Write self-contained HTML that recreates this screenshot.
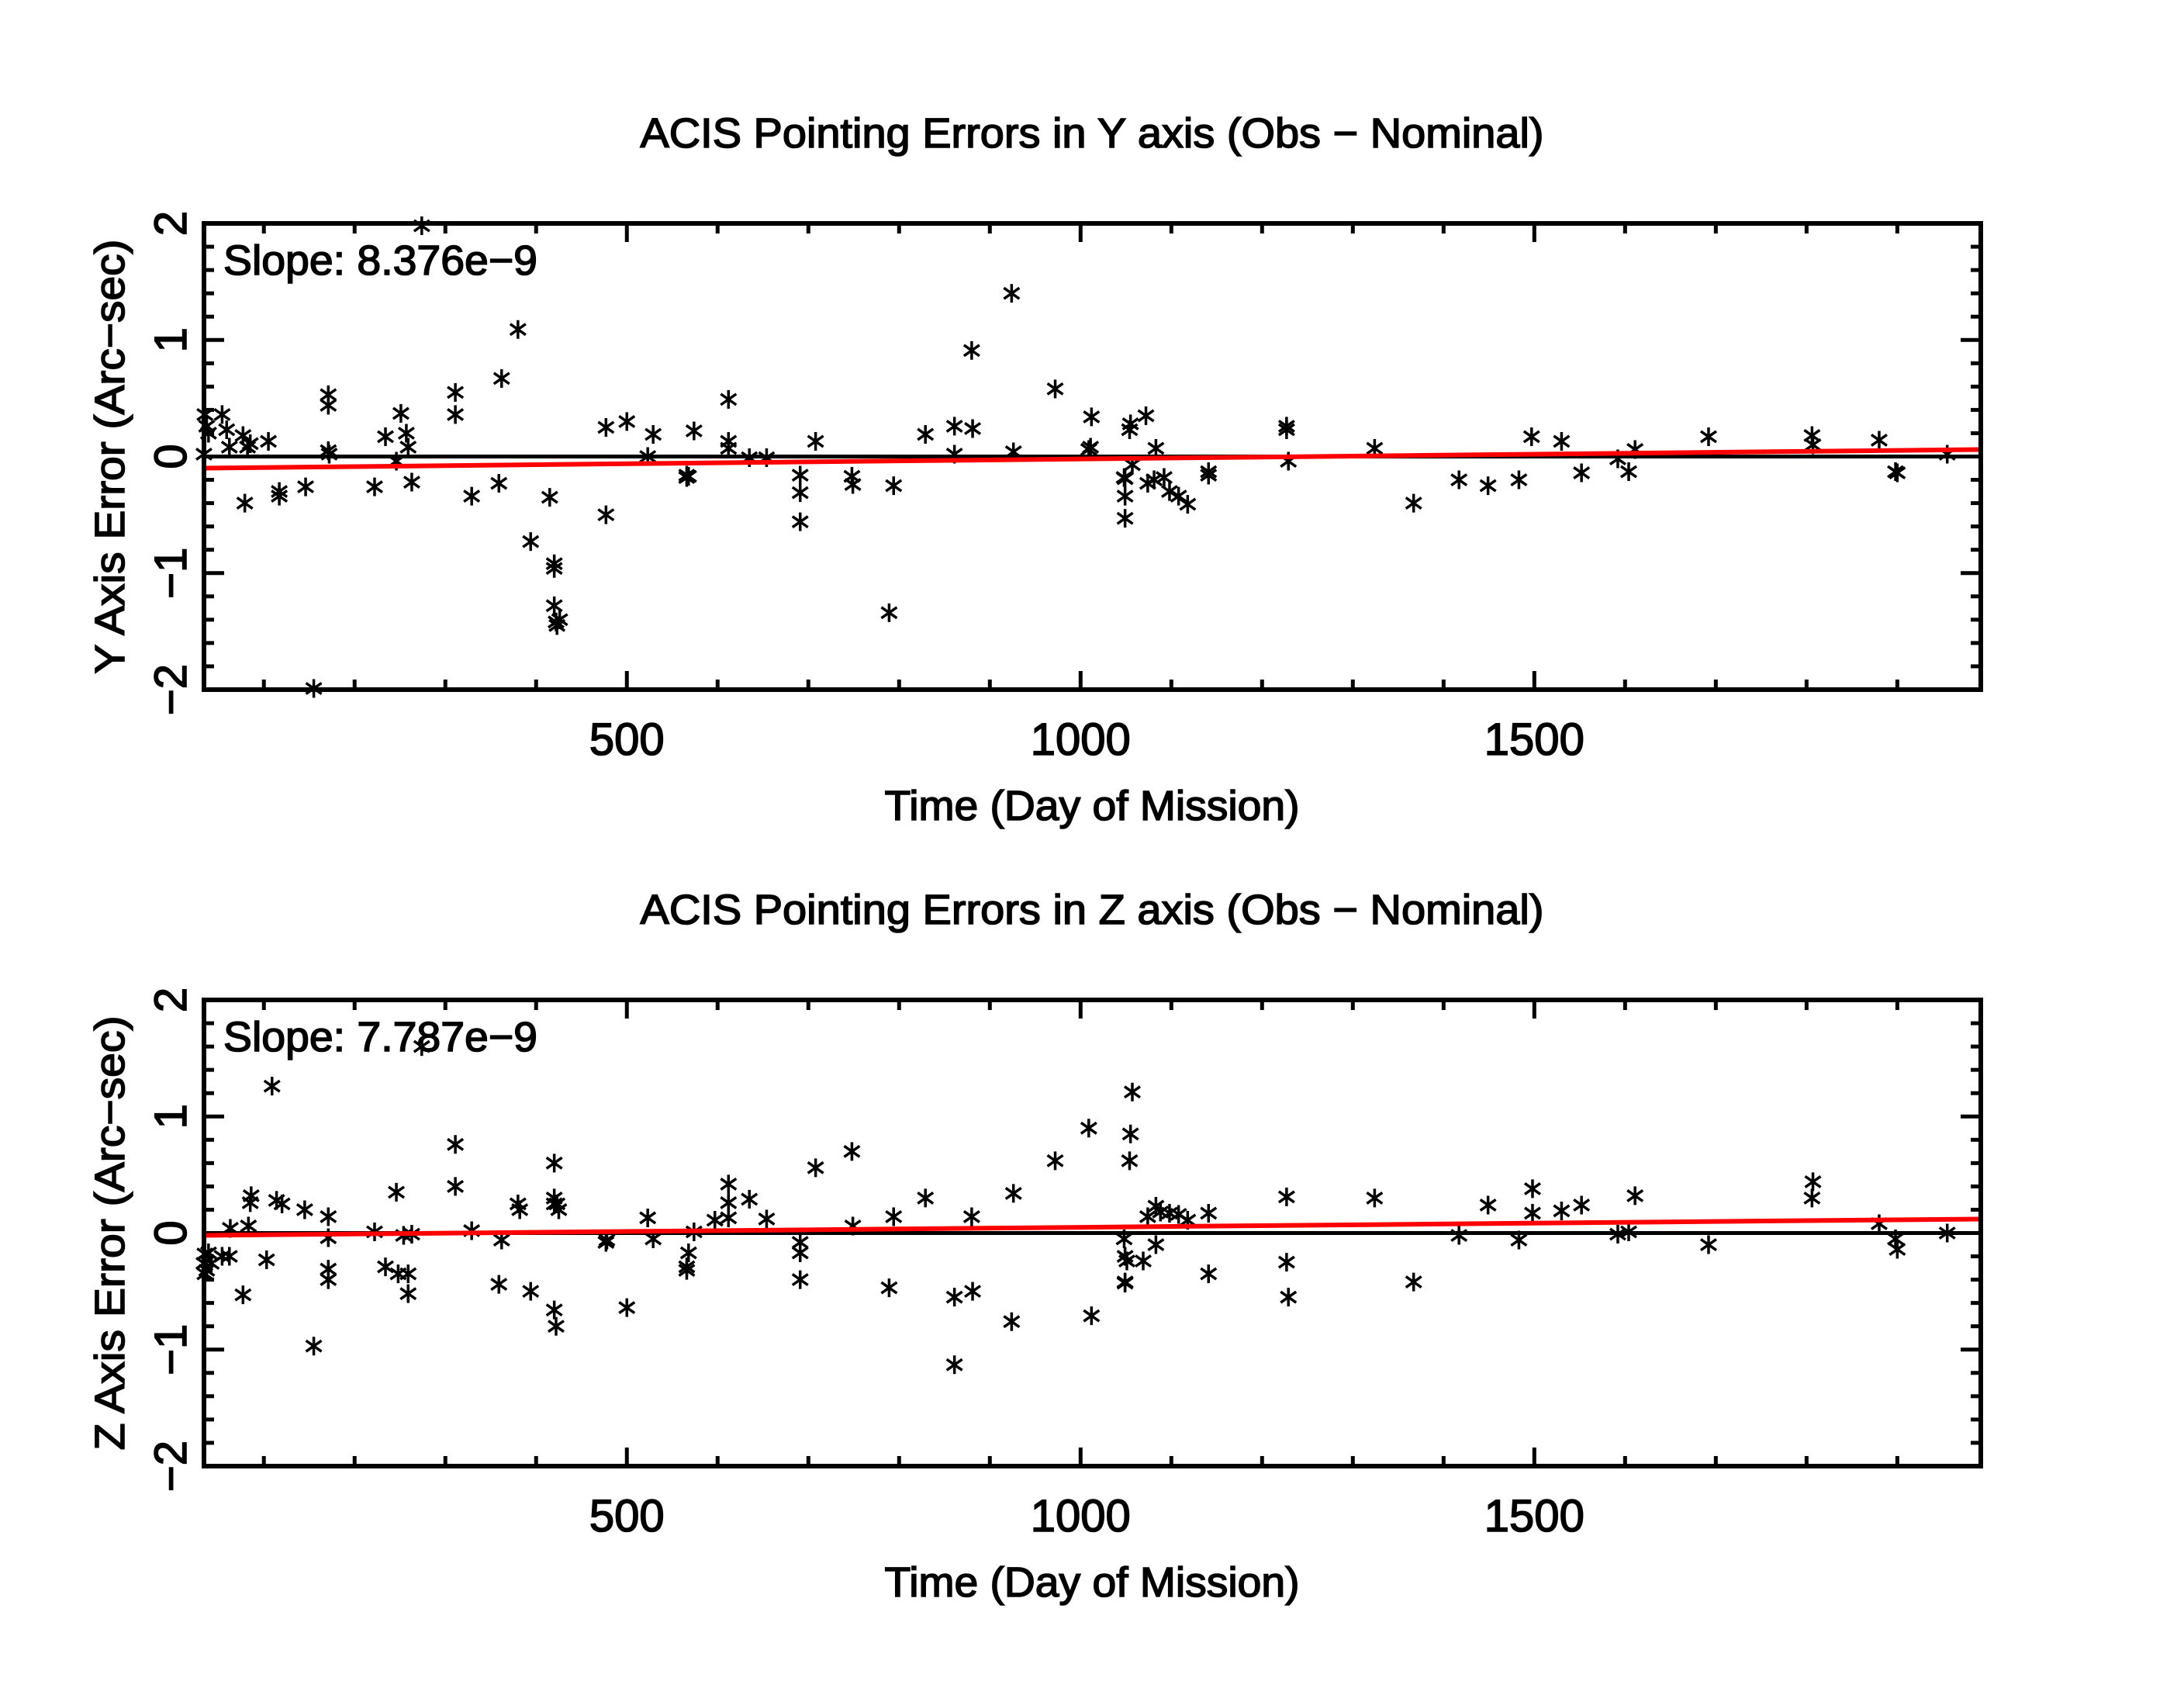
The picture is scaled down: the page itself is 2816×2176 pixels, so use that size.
<!DOCTYPE html>
<html><head><meta charset="utf-8"><style>
html,body{margin:0;padding:0;background:#fff;}
svg{display:block;}
text{font-family:"Liberation Sans",sans-serif;fill:#000;stroke:#000;stroke-width:1.6px;}
</style></head><body>
<svg id="chart" width="2816" height="2176" viewBox="0 0 2816 2176" xmlns="http://www.w3.org/2000/svg"></svg>
<script>
const yDays=[34,35,37,39,54,59,62,77,82,85,105,79,117,117,146,155,171,171,171,172,222,234,246,251,257,259,263,274,311,311,329,359,362,380,394,415,420,420,420,422,423,426,477,477,500,523,529,566,566,568,574,612,612,612,635,654,691,691,691,708,748,749,789,794,829,861,861,880,881,924,926,972,1009,1011,1012,1048,1049,1049,1049,1054,1055,1057,1072,1074,1081,1083,1092,1098,1108,1118,1141,1141,1227,1227,1229,1324,1367,1417,1449,1483,1497,1530,1552,1592,1604,1611,1692,1806,1807,1880,1898,1900,1955];
const yVals=[0.02,0.36,0.26,0.2,0.36,0.23,0.08,0.18,0.08,0.11,0.13,-0.40,-0.30,-0.34,-0.26,-1.99,0.53,0.44,0.05,0.02,-0.26,0.17,-0.04,0.37,0.20,0.08,-0.22,1.98,0.55,0.36,-0.34,-0.23,0.67,1.09,-0.73,-0.35,-0.92,-0.96,-1.28,-1.42,-1.45,-1.40,-0.50,0.25,0.30,0,0.19,-0.16,-0.18,-0.17,0.22,0.49,0.13,0.07,-0.01,-0.01,-0.16,-0.31,-0.56,0.13,-0.17,-0.24,-1.34,-0.25,0.19,0.26,0.02,0.91,0.24,1.40,0.04,0.58,0.06,0.08,0.34,-0.18,-0.19,-0.34,-0.53,0.23,0.28,-0.07,0.35,-0.23,-0.20,0.07,-0.18,-0.30,-0.34,-0.41,-0.13,-0.16,0.26,0.23,-0.04,0.07,-0.40,-0.20,-0.25,-0.20,0.17,0.13,-0.14,-0.02,-0.13,0.06,0.17,0.18,0.10,0.14,-0.13,-0.14,0.02];
const zDays=[34,35,35,37,39,42,54,62,63,77,83,85,86,103,109,114,120,145,155,171,171,171,171,222,234,246,248,254,259,259,263,274,311,311,329,359,362,380,382,394,420,420,420,420,422,423,425,477,478,500,523,529,566,566,568,574,597,612,612,612,635,654,691,691,691,708,748,749,789,794,829,861,861,880,881,924,926,972,1009,1012,1048,1049,1049,1049,1051,1054,1055,1057,1069,1074,1083,1083,1088,1098,1108,1118,1141,1141,1227,1227,1229,1324,1367,1417,1449,1483,1498,1498,1530,1552,1592,1604,1611,1692,1806,1807,1880,1898,1900,1955];
const zVals=[-0.26,-0.35,-0.18,-0.32,-0.17,-0.26,-0.20,-0.20,0.04,-0.53,0.06,0.26,0.32,-0.23,1.26,0.28,0.25,0.20,-0.97,0.14,-0.04,-0.31,-0.40,0.01,-0.29,0.35,-0.35,-0.02,-0.52,-0.35,-0.01,1.60,0.76,0.40,0.02,-0.44,-0.06,0.25,0.20,-0.50,0.60,0.30,0.25,-0.66,-0.80,0.25,0.20,-0.08,-0.06,-0.64,0.13,-0.05,-0.29,-0.32,-0.17,0.01,0.11,0.42,0.26,0.13,0.29,0.12,-0.08,-0.17,-0.40,0.56,0.70,0.06,-0.47,0.14,0.30,-0.55,-1.13,0.14,-0.50,-0.76,0.34,0.62,0.90,-0.71,-0.05,-0.20,-0.42,-0.43,-0.24,0.62,0.85,1.21,-0.24,0.14,0.23,-0.10,0.18,0.17,0.16,0.11,0.17,-0.35,0.31,-0.25,-0.55,0.30,-0.42,-0.02,0.24,-0.06,0.17,0.38,0.19,0.24,-0.01,0.01,0.32,-0.10,0.30,0.44,0.08,-0.05,-0.14,0.00];
const yFit=[-0.10,0.06];
const zFit=[-0.02,0.12];
const xTicks=[500,1000,1500];
const yTicks=[-2,-1,0,1,2];
const xDomain=[34,1992];
const yDomain=[-2,2];

const NS='http://www.w3.org/2000/svg';
const svg=document.getElementById('chart');
function mk(tag,attrs,parent){const e=document.createElementNS(NS,tag);for(const k in attrs)e.setAttribute(k,attrs[k]);(parent||svg).appendChild(e);return e;}

function panel(cfg){
  const L=263,R=2554,T=cfg.top,B=cfg.top+601;
  const sx=d=>L+(d-xDomain[0])/(xDomain[1]-xDomain[0])*(R-L);
  const sy=v=>B-(v-yDomain[0])/(yDomain[1]-yDomain[0])*(B-T);
  const g=mk('g',{});
  
  
  const t=mk('text',{x:1408,y:T-98,'font-size':54,'text-anchor':'middle',textLength:1165,lengthAdjust:'spacingAndGlyphs'},g);
  t.textContent=cfg.title;
  
  
  for(let d=100;d<xDomain[1];d+=100){
    const len=(d%500===0)?24:13;
    mk('line',{x1:sx(d),x2:sx(d),y1:B,y2:B-len,stroke:'#000','stroke-width':5},g);
    mk('line',{x1:sx(d),x2:sx(d),y1:T,y2:T+len,stroke:'#000','stroke-width':5},g);
  }
  for(let i=-10;i<=10;i++){
    const v=i/5;const len=(i%5===0)?26:13;
    mk('line',{x1:L,x2:L+len,y1:sy(v),y2:sy(v),stroke:'#000','stroke-width':5},g);
    mk('line',{x1:R,x2:R-len,y1:sy(v),y2:sy(v),stroke:'#000','stroke-width':5},g);
  }
  xTicks.forEach(d=>{const e=mk('text',{x:sx(d),y:B+84,'font-size':58,'text-anchor':'middle'},g);e.textContent=d;
    
    });
  yTicks.forEach(v=>{const yy=sy(v);const e=mk('text',{x:0,y:0,'font-size':58,'text-anchor':'middle',transform:`translate(240,${yy}) rotate(-90)`},g);e.textContent=(v<0?'\u2212':'')+Math.abs(v);
    
    });
  const xt=mk('text',{x:1408,y:B+168,'font-size':54,'text-anchor':'middle',textLength:535,lengthAdjust:'spacingAndGlyphs'},g);xt.textContent='Time  (Day  of  Mission)';
  
  
  const yt=mk('text',{x:0,y:0,'font-size':54,'text-anchor':'middle',textLength:560,lengthAdjust:'spacingAndGlyphs',transform:`translate(160,${(T+B)/2}) rotate(-90)`},g);yt.textContent=cfg.ylabel;
  
  
  const z=mk('line',{x1:L,x2:R,y1:sy(0),y2:sy(0),stroke:'#000','stroke-width':5},g);
  
  
  cfg.days.forEach((d,i)=>{
    const cx=sx(d),cy=sy(cfg.vals[i]);if(cy<T-12||cy>B+12)return;
    const p=mk('path',{d:`M${cx},${cy-12}V${cy+12}M${cx-10},${cy-7}L${cx+10},${cy+7}M${cx-10},${cy+7}L${cx+10},${cy-7}`,stroke:'#000','stroke-width':3.5,fill:'none'},g);
    
    
  });
  const f=mk('line',{x1:L,x2:R,y1:sy(cfg.fit[0]),y2:sy(cfg.fit[1]),stroke:'#ff0000','stroke-width':6},g);
  
  
  const fr=mk('rect',{x:L,y:T,width:R-L,height:B-T,fill:'none',stroke:'#000','stroke-width':6},g);
  
  
  const s=mk('text',{x:288,y:T+66,'font-size':54,textLength:405,lengthAdjust:'spacingAndGlyphs'},g);s.textContent=cfg.slope;
  
  
}
panel({name:'y-axis-error-panel',top:288,title:'ACIS  Pointing  Errors  in  Y  axis  (Obs  \u2212  Nominal)',ylabel:'Y  Axis  Error  (Arc\u2212sec)',days:yDays,vals:yVals,fit:yFit,slope:'Slope:  8.376e\u22129'});
panel({name:'z-axis-error-panel',top:1289,title:'ACIS  Pointing  Errors  in   Z  axis  (Obs  \u2212  Nominal)',ylabel:'Z  Axis  Error  (Arc\u2212sec)',days:zDays,vals:zVals,fit:zFit,slope:'Slope:  7.787e\u22129'});
</script>
</body></html>
